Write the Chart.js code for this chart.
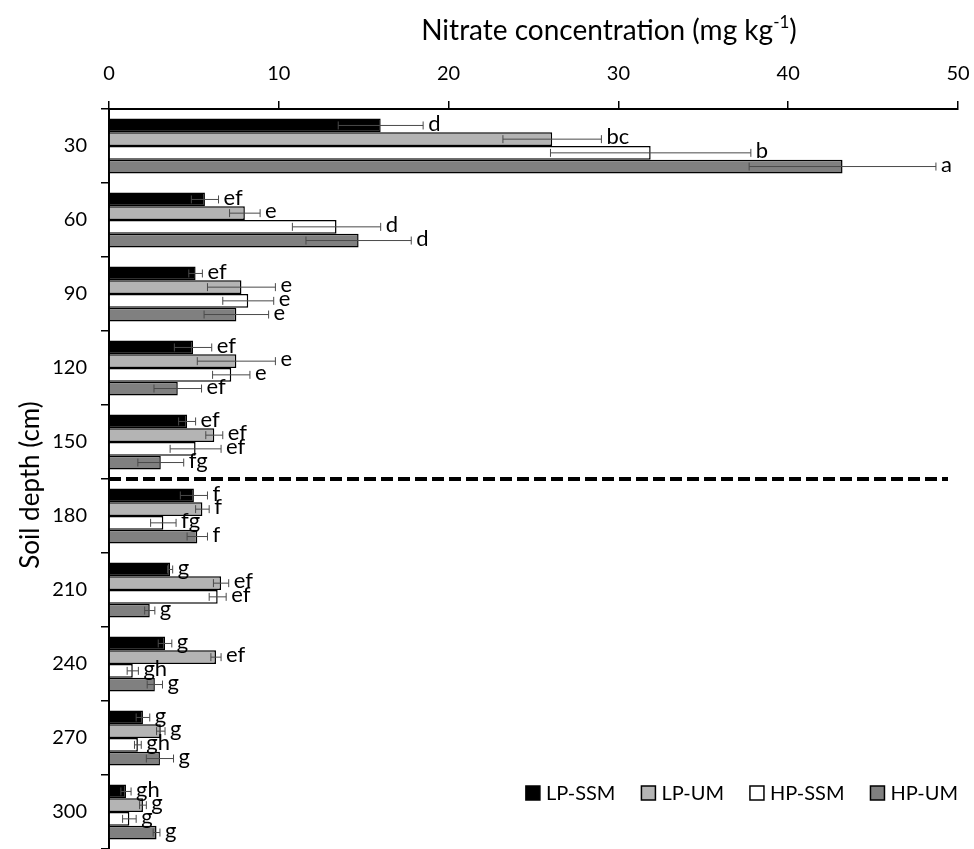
<!DOCTYPE html>
<html>
<head>
<meta charset="utf-8">
<script src="https://cdn.jsdelivr.net/npm/chart.js@4.4.1/dist/chart.umd.min.js"></script>
<style>
  body { margin: 0; background: #fff; }
  #wrap { width: 974px; height: 849px; }
</style>
</head>
<body>
<div id="wrap"><canvas id="graph1"></canvas></div>
<script>
// soil depths (cm)
const depths = ['30', '60', '90', '120', '150', '180', '210', '240', '270', '300'];

// nitrate means and errors, mg/kg
const lpSsm    = [16.0, 5.65, 5.1, 4.95, 4.6, 5.0, 3.6, 3.3, 2.0, 1.0];
const lpSsmErr = [2.5, 0.8, 0.4, 1.1, 0.5, 0.8, 0.15, 0.4, 0.4, 0.3];
const lpUm     = [26.1, 8.0, 7.8, 7.5, 6.2, 5.5, 6.6, 6.3, 3.05, 2.0];
const lpUmErr  = [2.9, 0.9, 2.0, 2.3, 0.5, 0.4, 0.45, 0.3, 0.25, 0.2];
const hpSsm    = [31.9, 13.4, 8.2, 7.2, 5.1, 3.2, 6.4, 1.4, 1.7, 1.2];
const hpSsmErr = [5.9, 2.6, 1.5, 1.1, 1.5, 0.75, 0.5, 0.33, 0.2, 0.4];
const hpUm     = [43.2, 14.7, 7.5, 4.05, 3.05, 5.2, 2.4, 2.7, 3.0, 2.8];
const hpUmErr  = [5.5, 3.1, 1.9, 1.4, 1.35, 0.6, 0.3, 0.45, 0.8, 0.2];

// significance letters
const lpSsmLet = ['d', 'ef', 'ef', 'ef', 'ef', 'f', 'g', 'g', 'g', 'gh'];
const lpUmLet  = ['bc', 'e', 'e', 'e', 'ef', 'f', 'ef', 'ef', 'g', 'g'];
const hpSsmLet = ['b', 'd', 'e', 'e', 'ef', 'fg', 'ef', 'gh', 'gh', 'g'];
const hpUmLet  = ['a', 'd', 'e', 'ef', 'fg', 'f', 'g', 'g', 'g', 'g'];

const xTicks = [0, 10, 20, 30, 40, 50];

const FONT = 'Lato, "Open Sans", sans-serif';

const mkSet = (label, data, err, letters, color) => ({
  label: label,
  data: data,
  err: err,
  letters: letters,
  backgroundColor: color,
  borderColor: '#000',
  borderWidth: 1.5,
  borderSkipped: 'start'
});

// no extra label padding, keep the plot box fixed
const noPad = (s) => {
  s.paddingTop = 0;
  s.paddingBottom = 0;
  s.paddingLeft = 0;
  s.paddingRight = 0;
};

// error bars + letters
const errorBars = {
  id: 'errorBars',
  afterDatasetsDraw(chart) {
    const ctx = chart.ctx;
    const x = chart.scales.x;
    ctx.save();
    chart.data.datasets.forEach((ds, di) => {
      const meta = chart.getDatasetMeta(di);
      meta.data.forEach((bar, i) => {
        const v = ds.data[i], e = ds.err[i];
        const x0 = x.getPixelForValue(v - e);
        const x1 = x.getPixelForValue(v + e);
        const y = bar.y;
        ctx.strokeStyle = '#4a4a4a';
        ctx.lineWidth = 1;
        ctx.beginPath();
        ctx.moveTo(x0, y); ctx.lineTo(x1, y);
        ctx.moveTo(x0, y - 4); ctx.lineTo(x0, y + 4);
        ctx.moveTo(x1, y - 4); ctx.lineTo(x1, y + 4);
        ctx.stroke();
        ctx.fillStyle = '#000';
        ctx.font = '22px ' + FONT;
        ctx.textAlign = 'left';
        ctx.textBaseline = 'middle';
        ctx.fillText(ds.letters[i], x1 + 5, y - 2);
      });
    });
    ctx.restore();
  }
};

// titles, dashed divider and legend
const extras = {
  id: 'extras',
  afterDraw(chart) {
    const ctx = chart.ctx;
    const area = chart.chartArea;
    const y = chart.scales.y;
    ctx.save();

    // x title with superscript
    ctx.fillStyle = '#000';
    ctx.textBaseline = 'alphabetic';
    const main = 'Nitrate concentration (mg kg';
    ctx.font = '28px ' + FONT;
    const w1 = ctx.measureText(main).width;
    ctx.font = '17px ' + FONT;
    const w2 = ctx.measureText('-1').width;
    ctx.font = '28px ' + FONT;
    const w3 = ctx.measureText(')').width;
    let tx = 609 - (w1 + w2 + w3) / 2;
    ctx.textAlign = 'left';
    ctx.fillText(main, tx, 40);
    ctx.font = '17px ' + FONT;
    ctx.fillText('-1', tx + w1, 28);
    ctx.font = '28px ' + FONT;
    ctx.fillText(')', tx + w1 + w2, 40);

    // y title
    ctx.save();
    ctx.translate(31, 485);
    ctx.rotate(-Math.PI / 2);
    ctx.textAlign = 'center';
    ctx.textBaseline = 'middle';
    ctx.font = '26px ' + FONT;
    ctx.fillText('Soil depth (cm)', 0, 0);
    ctx.restore();

    // dashed line between 150 and 180
    const yd = (y.getPixelForValue(4) + y.getPixelForValue(5)) / 2;
    ctx.strokeStyle = '#000';
    ctx.lineWidth = 4;
    ctx.setLineDash([12, 5]);
    ctx.beginPath();
    ctx.moveTo(area.left, yd);
    ctx.lineTo(area.right - 10, yd);
    ctx.stroke();
    ctx.setLineDash([]);

    // legend, bottom right
    ctx.font = '20px ' + FONT;
    ctx.textBaseline = 'middle';
    ctx.textAlign = 'left';
    const box = 14, gap = 6, sep = 26;
    const items = chart.data.datasets;
    let total = 0;
    items.forEach((ds, i) => {
      total += box + gap + ctx.measureText(ds.label).width + (i < items.length - 1 ? sep : 0);
    });
    let lx = area.right - total;
    const ly = 793;
    items.forEach(ds => {
      ctx.fillStyle = ds.backgroundColor;
      ctx.fillRect(lx, ly - box / 2, box, box);
      ctx.strokeStyle = '#000';
      ctx.lineWidth = 1.5;
      ctx.strokeRect(lx, ly - box / 2, box, box);
      ctx.fillStyle = '#000';
      ctx.fillText(ds.label, lx + box + gap, ly + 1);
      lx += box + gap + ctx.measureText(ds.label).width + sep;
    });
    ctx.restore();
  }
};

const initChart = () => {
  const ctx = document.getElementById('graph1').getContext('2d');

  const data = {
    labels: depths,
    datasets: [
      mkSet('LP-SSM', lpSsm, lpSsmErr, lpSsmLet, '#000000'),
      mkSet('LP-UM', lpUm, lpUmErr, lpUmLet, '#b4b4b4'),
      mkSet('HP-SSM', hpSsm, hpSsmErr, hpSsmLet, '#ffffff'),
      mkSet('HP-UM', hpUm, hpUmErr, hpUmLet, '#808080')
    ]
  };

  const options = {
    indexAxis: 'y',
    responsive: true,
    maintainAspectRatio: false,
    animation: false,
    categoryPercentage: 0.74,
    barPercentage: 1.0,
    layout: { padding: { left: 0, right: 16, top: 0, bottom: 0 } },
    plugins: {
      legend: { display: false },
      tooltip: { enabled: false }
    },
    scales: {
      x: {
        position: 'top',
        min: 0,
        max: 50,
        afterBuildTicks: (s) => { s.ticks = xTicks.map(v => ({ value: v })); },
        afterFit: (s) => { s.height = 109; noPad(s); },
        ticks: {
          color: '#000',
          padding: 15,
          font: { family: FONT, size: 20 }
        },
        grid: {
          drawOnChartArea: false,
          drawTicks: true,
          tickLength: 8,
          color: '#000',
          lineWidth: 1.5
        },
        border: { display: true, color: '#000', width: 2 }
      },
      y: {
        afterFit: (s) => { s.width = 109; noPad(s); },
        ticks: {
          color: '#000',
          padding: 14,
          font: { family: FONT, size: 20 }
        },
        grid: {
          drawOnChartArea: false,
          drawTicks: true,
          tickLength: 8,
          color: '#000',
          lineWidth: 1.5
        },
        border: { display: true, color: '#000', width: 2 }
      }
    }
  };

  new Chart(ctx, {
    type: 'bar',
    data: data,
    options: options,
    plugins: [errorBars, extras]
  });
};

initChart();
</script>
</body>
</html>
